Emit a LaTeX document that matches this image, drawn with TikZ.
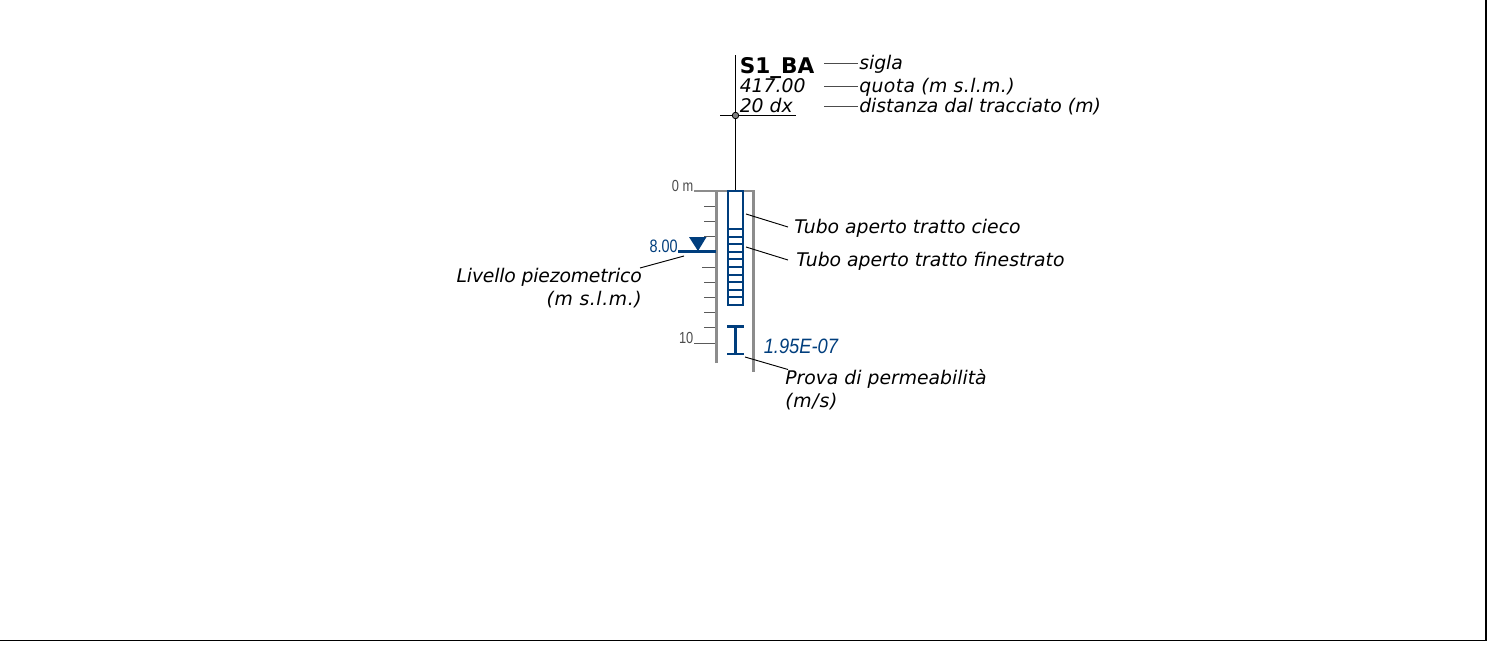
\documentclass[tikz,border=0pt]{standalone}
\usepackage{fontspec}
\setmainfont{DejaVu Sans}
\newfontfamily\narrowf[FakeStretch=0.8]{Liberation Sans}
\newfontfamily\widerf[FakeStretch=0.88]{Liberation Sans}
\definecolor{tubeblue}{RGB}{0,62,125}
\definecolor{wallgray}{RGB}{140,140,140}
\definecolor{tickgray}{RGB}{90,90,90}
\tikzset{
 x=0.75pt,y=-0.75pt,
 lab/.style={font=\fontsize{14.1pt}{17pt}\selectfont\itshape,inner sep=0pt,anchor=base west,text=black},
 leader/.style={draw=black,line width=0.7pt},
 leadg/.style={draw=black!70,line width=0.8pt},
 wall/.style={draw=wallgray,line width=2pt},
 tick/.style={draw=tickgray,line width=0.7pt},
 tube/.style={draw=tubeblue,line width=1.5pt},
 num/.style={font=\fontsize{12pt}{14pt}\selectfont\narrowf,inner sep=0pt,anchor=base east},
}
\begin{document}
\begin{tikzpicture}
\useasboundingbox (0,0) rectangle (1499,646);
\fill[white] (0,0) rectangle (1499,646);
% frame
\coordinate (fa) at (0,640.5); \coordinate (fb) at (1486,640.5); \coordinate (fc) at (1486,0);
\draw[black,line width=0.8pt] (fa) -- (fb) -- (fc);
% titles
\node[lab,font=\fontsize{16.2pt}{19pt}\selectfont\bfseries,anchor=base west] (sigla) at (739.5,73) {S1\_BA};
\node[lab] (quota) at (739.5,92.5) {417.00};
\node[lab] (dist) at (739.5,112.5) {20 dx};
\coordinate (top) at (735.5,55);
\coordinate (head) at (735.5,115.5);
\coordinate (tubetop) at (735.5,191);
\coordinate (ul) at (720,115.5);
\coordinate (ur) at (796,115.5);
\draw[black,line width=1pt] (top) -- (tubetop);
\draw[black,line width=1pt] (ul) -- (ur);
\node[circle,draw=black,fill=black!50,line width=0.6pt,minimum size=6.5pt*0.75,inner sep=0pt] (mark) at (head) {};
% right legend
\node[lab] (ls) at (859,69) {sigla};
\node[lab] (lq) at (859,92) {\addfontfeature{LetterSpace=2}quota (m s.l.m.)};
\node[lab] (ld) at (859,112) {distanza dal tracciato (m)};
\coordinate (a1) at (824,63.5); \coordinate (a2) at (824,86.5); \coordinate (a3) at (824,106.5);
\draw[leadg] (a1) -- (858,63.5);
\draw[leadg] (a2) -- (858,86.5);
\draw[leadg] (a3) -- (858,106.5);
% ticks
\foreach \yy/\xx in {206/704,221/704,236/704,267/702,282/704,297/704,312/704,327/704}
  {\draw[tick] (\xx,\yy) -- (716,\yy);}
\coordinate (t0) at (694,191); \coordinate (t10) at (694,343);
\draw[wall,line width=1.4pt] (t0) -- (716,191);
\draw[tick] (t10) -- (716,343);
% walls
\coordinate (wl0) at (716.5,191); \coordinate (wl1) at (716.5,363);
\coordinate (wr0) at (753.5,191); \coordinate (wr1) at (753.5,372);
\draw[wall,line join=miter] (wl1) -- (wl0) -- (wr0) -- (wr1);
% tube
\node[num,text=black!70] (n0) at (693.5,191) {0 m};
\node[num,text=black!70] (n10) at (693.5,343) {10};
\draw[tube] (728,191) rectangle (743,305);
\foreach \k in {0,...,9}{\draw[tube] (728,{229+7.6*\k}) -- (743,{229+7.6*\k});}
% level
\coordinate (lv0) at (678,251.5); \coordinate (lv1) at (716,251.5);
\draw[tubeblue,line width=2pt] (lv0) -- (lv1);
\fill[tubeblue] (689,237) -- (706.5,237) -- (698,251) -- cycle;
\node[num,text=tubeblue,font=\fontsize{13.5pt}{16pt}\selectfont\narrowf] (n8) at (678,252) {8.00};
% permeability
\coordinate (ib0) at (735.5,326.5); \coordinate (ib1) at (735.5,354);
\draw[tubeblue,line width=2pt] (ib0) -- (ib1);
\draw[tubeblue,line width=2pt] (727,326.5) -- (744,326.5);
\draw[tubeblue,line width=2pt] (727,354) -- (744,354);
\node[text=tubeblue,font=\fontsize{15.6pt}{18pt}\selectfont\widerf\itshape,inner sep=0pt,anchor=base west] (kv) at (763.5,353.5) {1.95E-07};
% labels
\node[lab] (lc) at (794,233) {Tubo aperto tratto cieco};
\node[lab] (lf) at (796,266) {Tubo aperto tratto finestrato};
\node[lab,anchor=base east] (lp1) at (642,282.5) {\addfontfeature{LetterSpace=-1}Livello piezometrico};
\node[lab,anchor=base east] (lp2) at (642,305.5) {\addfontfeature{LetterSpace=3.2}(m s.l.m.)};
\node[lab] (pp1) at (785,384.5) {Prova di permeabilità};
\node[lab] (pp2) at (785,407.5) {\addfontfeature{LetterSpace=4}(m/s)};
\coordinate (c1) at (746,214); \coordinate (c2) at (788,227);
\coordinate (f1) at (746,247); \coordinate (f2) at (788,260);
\coordinate (p1) at (684,256); \coordinate (p2) at (640,268);
\coordinate (k1) at (745,357); \coordinate (k2) at (788,369.5);
\draw[leader] (c1) -- (c2);
\draw[leader] (f1) -- (f2);
\draw[leader] (p1) -- (p2);
\draw[leader] (k1) -- (k2);
\end{tikzpicture}
\end{document}
